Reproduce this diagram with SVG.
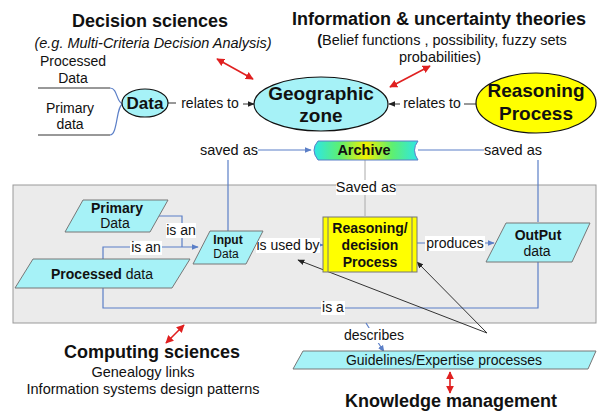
<svg xmlns="http://www.w3.org/2000/svg" width="606" height="414" viewBox="0 0 606 414">
<defs>
<style>
text{font-family:"Liberation Sans",Arial,sans-serif;fill:#111}
.h{font-size:18px;font-weight:bold;text-anchor:middle}
.t{font-size:14px;text-anchor:middle}
.s{font-size:14.5px;text-anchor:middle}
.b{font-weight:bold}
.c{stroke:#5b7fc7;stroke-width:1.2;fill:none}
.k{stroke:#333;stroke-width:1;fill:none}
.r{stroke:#e02020;stroke-width:1.6;fill:none}
.cy{fill:#a6f2f7;stroke:#777;stroke-width:1}
.lb{fill:#fff}
</style>
<marker id="ab" viewBox="0 0 10 10" refX="9" refY="5" markerWidth="6" markerHeight="6" orient="auto"><path d="M0,1 L10,5 L0,9 Z" fill="#5b7fc7"/></marker>
<marker id="ak" viewBox="0 0 10 10" refX="9" refY="5" markerWidth="7" markerHeight="7" orient="auto"><path d="M0,1 L10,5 L0,9 Z" fill="#222"/></marker>
<marker id="ar" viewBox="0 0 10 10" refX="9" refY="5" markerWidth="5" markerHeight="5" orient="auto-start-reverse"><path d="M0,0 L10,5 L0,10 Z" fill="#e02020"/></marker>
<linearGradient id="arch" x1="0" y1="0" x2="1" y2="0">
<stop offset="0" stop-color="#2ee6e6"/><stop offset="0.25" stop-color="#5ef070"/><stop offset="0.5" stop-color="#f0f000"/><stop offset="0.75" stop-color="#5ef070"/><stop offset="1" stop-color="#2ee6e6"/>
</linearGradient>
</defs>

<rect id="panel" x="13" y="185" width="583" height="138" fill="#ebebeb" stroke="#999" stroke-width="1"/>

<g id="labels-top">
<text class="h" x="150" y="27">Decision sciences</text>
<text class="s" x="153" y="48" font-style="italic">(e.g. Multi-Criteria Decision Analysis)</text>
<text class="h" x="439" y="25">Information &amp; uncertainty theories</text>
<text class="s" x="442" y="45"><tspan class="b">(</tspan>Belief functions , possibility, fuzzy sets</text>
<text class="s" x="440" y="62">probabilities)</text>
</g>

<g id="connectors">
<path class="k" d="M38,88 H110 M38,135 H110"/>
<path class="c" d="M110,88 C118,88 116,103 123,104 M110,135 C118,135 116,105 123,104"/>
<path class="k" d="M168,103 H176"/>
<path class="k" d="M243,104 H254" marker-end="url(#ak)"/>
<path class="k" d="M476,104 H464"/>
<path class="k" d="M400,104 H389" marker-end="url(#ak)"/>
<path class="r" d="M217,59 L253,79" marker-start="url(#ar)" marker-end="url(#ar)"/>
<path class="r" d="M390,87 L430,66" marker-start="url(#ar)" marker-end="url(#ar)"/>
<path class="r" d="M184,325 L166,343" marker-start="url(#ar)" marker-end="url(#ar)"/>
<path class="r" d="M450,372 L450,393" marker-start="url(#ar)" marker-end="url(#ar)"/>
<path class="c" d="M228,232 V160"/>
<path class="c" d="M258,150 H311" marker-end="url(#ab)"/>
<path class="c" d="M418,150 H484"/>
<path class="c" d="M538,222 V160"/>
<path stroke="#aaa" stroke-width="1" fill="none" d="M365,160 V216"/>
<path class="c" d="M158,216 H182 V247"/>
<path class="c" d="M103,259 V247 H198" marker-end="url(#ab)"/>
<path class="c" d="M318,245 H323" marker-end="url(#ab)"/>
<path class="c" d="M417,243 H494" marker-end="url(#ab)"/>
<path class="c" d="M538,262 V308 H103 V288"/>
<path class="k" d="M487,333 L298,260" marker-end="url(#ak)"/>
<path class="k" d="M487,333 L417,262" marker-end="url(#ak)"/>
<path class="c" d="M366,323 L384,352" marker-end="url(#ab)"/>
</g>

<g id="connector-labels">
<text class="t" x="210" y="108">relates to</text>
<text class="t" x="432" y="108">relates to</text>
<text class="s" x="229" y="155">saved as</text>
<text class="s" x="513" y="155">saved as</text>
<rect class="lb" x="336" y="180" width="60" height="15"/>
<text class="s" x="366" y="192">Saved as</text>
<rect class="lb" x="166" y="223" width="30" height="15"/>
<text class="t" x="181" y="235">is an</text>
<rect class="lb" x="130" y="241" width="32" height="14"/>
<text class="t" x="146" y="252">is an</text>
<rect class="lb" x="256" y="238" width="64" height="15"/>
<text class="t" x="288" y="250">is used by</text>
<rect class="lb" x="425" y="236" width="60" height="15"/>
<text class="t" x="455" y="248">produces</text>
<rect class="lb" x="321" y="301" width="24" height="14"/>
<text class="t" x="333" y="312">is a</text>
<rect class="lb" x="342" y="328" width="64" height="15"/>
<text class="t" x="374" y="340">describes</text>
<text class="t" x="73" y="66">Processed</text>
<text class="t" x="73" y="83">Data</text>
<text class="t" x="70" y="113">Primary</text>
<text class="t" x="70" y="129">data</text>
</g>

<g id="node-data">
<ellipse cx="145" cy="103" rx="23" ry="14" fill="#a6f2f7" stroke="#111" stroke-width="1.2"/>
<text class="t b" x="145" y="109" style="font-size:17px">Data</text>
</g>

<g id="node-geo">
<ellipse cx="321" cy="104" rx="67" ry="27" fill="#a6f2f7" stroke="#111" stroke-width="1.2"/>
<text class="t b" x="321" y="100" style="font-size:19px">Geographic</text>
<text class="t b" x="321" y="122" style="font-size:19px">zone</text>
</g>

<g id="node-reasoning">
<ellipse cx="536" cy="103" rx="60" ry="30" fill="#ffff00" stroke="#111" stroke-width="1.2"/>
<text class="t b" x="536" y="97" style="font-size:19px">Reasoning</text>
<text class="t b" x="536" y="120" style="font-size:19px">Process</text>
</g>

<g id="node-archive">
<path d="M318,141 H418 Q411,150 418,160 H318 Q310,150 318,141 Z" fill="url(#arch)" stroke="#5b7fc7" stroke-width="1"/>
<text class="s b" x="364" y="155">Archive</text>
</g>

<g id="node-primary">
<polygon class="cy" points="83,200 168,200 150,232 65,232"/>
<text class="t b" x="117" y="213">Primary</text>
<text class="t" x="115" y="228">Data</text>
</g>

<g id="node-processed">
<polygon class="cy" points="33,259 190,259 172,288 15,288"/>
<text class="t" x="102" y="279"><tspan class="b">Processed</tspan> data</text>
</g>

<g id="node-input">
<polygon class="cy" points="210,231 263,231 246,264 193,264"/>
<text class="t b" x="228" y="244" style="font-size:12px">Input</text>
<text class="t" x="226" y="258" style="font-size:12px">Data</text>
</g>

<g id="node-decision">
<rect x="323" y="217" width="94" height="55" fill="#ffff00" stroke="#777" stroke-width="1"/>
<path d="M328,217 V272 M412,217 V272" stroke="#777" stroke-width="1"/>
<text class="t b" x="370" y="233">Reasoning/</text>
<text class="t b" x="370" y="250">decision</text>
<text class="t b" x="370" y="267">Process</text>
</g>

<g id="node-output">
<polygon class="cy" points="506,223 590,223 572,262 486,262"/>
<text class="t b" x="538" y="240">OutPut</text>
<text class="t" x="537" y="256">data</text>
</g>

<g id="node-guidelines">
<polygon class="cy" points="303,351 596,351 588,369 293,369"/>
<text class="t" x="444" y="365">Guidelines/Expertise processes</text>
</g>

<g id="labels-bottom">
<text class="h" x="152" y="358">Computing sciences</text>
<text class="s" x="143" y="377">Genealogy links</text>
<text class="s" x="143" y="394">Information systems design patterns</text>
<text class="h" x="451" y="407">Knowledge management</text>
</g>
</svg>
